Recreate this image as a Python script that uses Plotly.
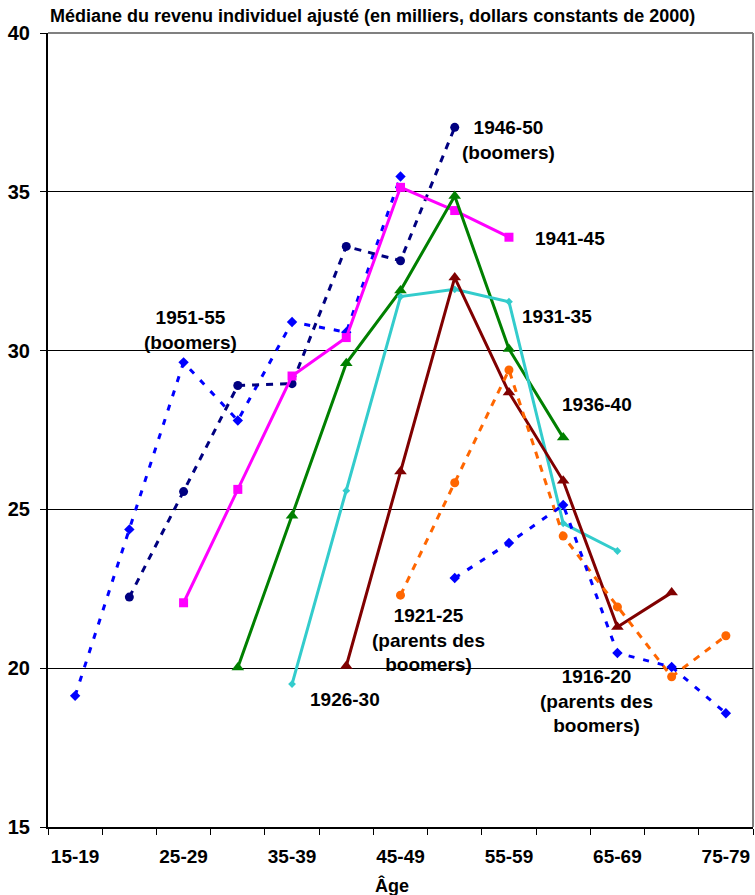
import plotly.graph_objects as go

# Age groups on the horizontal axis
ages = ["15-19", "20-24", "25-29", "30-34", "35-39", "40-44", "45-49",
        "50-54", "55-59", "60-64", "65-69", "70-74", "75-79"]

# Median adjusted individual income (thousands, constant 2000 dollars)
# each cohort starts at the given age group index
c1951_start = 0
c1951 = [19.13, 24.37, 29.63, 27.8, 30.9, 30.58, 35.48]
c1946_start = 1
c1946 = [22.24, 25.56, 28.9, 28.96, 33.28, 32.83, 37.03]
c1941_start = 2
c1941 = [22.06, 25.63, 29.2, 30.41, 35.14, 34.41, 33.57]
c1936_start = 3
c1936 = [20.02, 24.8, 29.6, 31.89, 34.87, 30.05, 27.26]
c1931_start = 4
c1931 = [19.5, 25.59, 31.7, 31.93, 31.54, 24.56, 23.69]
c1926_start = 5
c1926 = [20.07, 26.19, 32.3, 28.68, 25.9, 21.3, 22.38]
c1921_start = 6
c1921 = [22.3, 25.84, 29.39, 24.16, 21.93, 19.73, 21.02]
c1916_start = 7
c1916 = [22.84, 23.94, 25.14, 20.48, 20.04, 18.58]

FONT = "Liberation Sans, Arial, sans-serif"

W, H = 755, 895
ML, MR, MT, MB = 48, 2, 33, 68
PW, PH = W - ML - MR, H - MT - MB

fig = go.Figure()


def add_cohort(name, start, values, color, dash, symbol, msize, width=3):
    xs = list(range(start, start + len(values)))
    fig.add_trace(go.Scatter(
        x=xs, y=values, name=name, mode="lines+markers",
        line=dict(color=color, width=width, dash=dash),
        marker=dict(symbol=symbol, size=msize, color=color),
        hovertext=[ages[i] for i in xs],
        showlegend=False,
    ))


add_cohort("1951-55", c1951_start, c1951, "#0000FF", "6px,9px", "diamond", 8)
add_cohort("1946-50", c1946_start, c1946, "#000080", "7px,7px", "circle", 9)
add_cohort("1941-45", c1941_start, c1941, "#FF00FF", "solid", "square", 9)
add_cohort("1936-40", c1936_start, c1936, "#008000", "solid", "triangle-up", 11)
add_cohort("1931-35", c1931_start, c1931, "#33CCCC", "solid", "diamond", 6)
add_cohort("1926-30", c1926_start, c1926, "#800000", "solid", "triangle-up", 11)
add_cohort("1921-25", c1921_start, c1921, "#FF6600", "7px,7px", "circle", 9)
add_cohort("1916-20", c1916_start, c1916, "#0000FF", "6px,9px", "diamond", 8)

# Cohort labels
labels = [
    ("1946-50<br>(boomers)", 8.0, 36.64),
    ("1941-45", 9.12, 33.52),
    ("1951-55<br>(boomers)", 2.13, 30.65),
    ("1931-35", 8.88, 31.06),
    ("1936-40", 9.63, 28.29),
    ("1921-25<br>(parents des<br>boomers)", 6.52, 20.88),
    ("1926-30", 4.97, 19.03),
    ("1916-20<br>(parents des<br>boomers)", 9.62, 18.97),
]
for text, lx, ly in labels:
    fig.add_annotation(x=lx, y=ly, xref="x", yref="y", text="<b>%s</b>" % text,
                       showarrow=False, xanchor="center", yanchor="middle",
                       font=dict(family=FONT, size=19, color="#000"))


def px_x(px):
    return (px - ML) / PW


def px_y(py):
    return 1 - (py - MT) / PH


# Chart title and axis title
fig.add_annotation(x=0, y=px_y(16), xref="paper", yref="paper", yanchor="middle",
                   text="<b>Médiane du revenu individuel ajusté (en milliers, dollars constants de 2000)</b>",
                   showarrow=False, xanchor="left",
                   font=dict(family=FONT, size=18, color="#000"))
fig.add_annotation(x=px_x(392), y=px_y(885), xref="paper", yref="paper", text="<b>Âge</b>",
                   showarrow=False, xanchor="center", yanchor="middle",
                   font=dict(family=FONT, size=18, color="#000"))

# gray frame on top and right
fig.add_shape(type="line", xref="x domain", yref="y domain", x0=0, x1=1, y0=1, y1=1,
              line=dict(color="#808080", width=2), layer="below")
fig.add_shape(type="line", xref="x domain", yref="y domain", x0=1, x1=1, y0=0, y1=1,
              line=dict(color="#808080", width=2), layer="below")

fig.update_xaxes(
    range=[-0.5, 12.5], tickmode="array",
    tickvals=list(range(0, 13, 2)), ticktext=ages[::2],
    ticks="", showgrid=False, zeroline=False,
    showline=True, linecolor="#000", linewidth=2,
    minor=dict(tickmode="array", tickvals=[i - 0.5 for i in range(14)],
               ticks="outside", ticklen=6, tickwidth=1, tickcolor="#000", showgrid=False),
    ticklabelstandoff=11,
    tickfont=dict(family=FONT, size=19, color="#000", weight="bold"),
)
fig.update_yaxes(
    range=[15, 40], tickmode="linear", tick0=15, dtick=5,
    ticks="outside", ticklen=6, tickwidth=1, tickcolor="#000",
    showgrid=True, gridcolor="#000", gridwidth=1, zeroline=False,
    showline=True, linecolor="#000", linewidth=2,
    ticklabelstandoff=6,
    tickfont=dict(family=FONT, size=20, color="#000", weight="bold"),
)

fig.update_layout(
    width=W, height=H,
    margin=dict(l=ML, r=MR, t=MT, b=MB),
    plot_bgcolor="#fff", paper_bgcolor="#fff",
    font=dict(family=FONT),
)

fig.write_html("out.html")
